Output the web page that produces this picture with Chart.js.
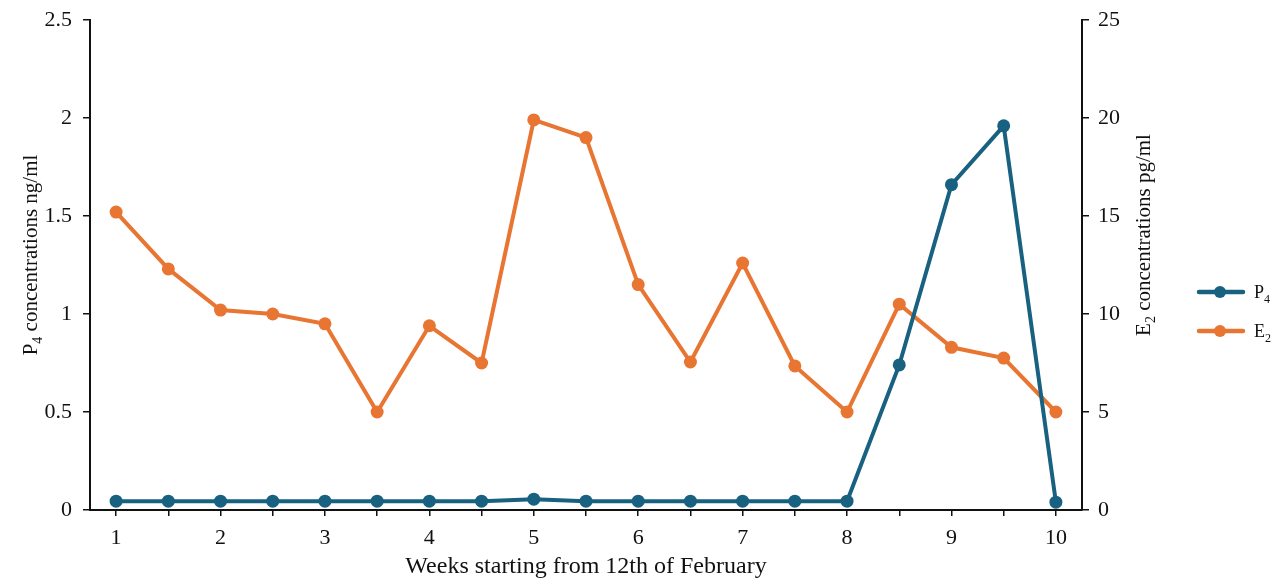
<!DOCTYPE html>
<html>
<head>
<meta charset="utf-8">
<title>P4 and E2 concentrations</title>
<script src="https://cdn.jsdelivr.net/npm/chart.js@4/dist/chart.umd.min.js"></script>
<style>
  html, body { margin: 0; padding: 0; background: #fff; }
  #wrap { width: 1280px; height: 586px; position: relative; }
</style>
</head>
<body>
<div id="wrap"><canvas id="c" width="1280" height="586"></canvas></div>
<script>
// Sampling weeks (half-week steps)
const weeks = [1, 1.5, 2, 2.5, 3, 3.5, 4, 4.5, 5, 5.5, 6, 6.5, 7, 7.5, 8, 8.5, 9, 9.5, 10];

// Progesterone, ng/ml (left axis)
const p4Values = [0.045, 0.045, 0.045, 0.045, 0.045, 0.045, 0.045, 0.045, 0.055, 0.045,
                  0.045, 0.045, 0.045, 0.045, 0.045, 0.74, 1.66, 1.96, 0.04];

// Oestradiol, pg/ml (right axis)
const e2Values = [15.2, 12.3, 10.2, 10.0, 9.5, 5.0, 9.4, 7.5, 19.9, 19.0,
                  11.5, 7.55, 12.6, 7.35, 5.0, 10.5, 8.3, 7.75, 5.0];

const leftTicks = [0, 0.5, 1, 1.5, 2, 2.5];
const rightTicks = [0, 5, 10, 15, 20, 25];

const BLUE = '#186181';
const ORANGE = '#E87532';
const SERIF = '"Liberation Serif", "DejaVu Serif", serif';
const INK = '#111';

// Draw a run of text pieces, some of them subscripted, centred or left-aligned on (x, y)
function drawRich(ctx, parts, x, y, size, align) {
  const subSize = Math.round(size * 0.68);
  let total = 0;
  parts.forEach(p => {
    ctx.font = (p.sub ? subSize : size) + 'px ' + SERIF;
    p.w = ctx.measureText(p.t).width;
    total += p.w;
  });
  let cx = align === 'left' ? x : x - total / 2;
  ctx.textBaseline = 'alphabetic';
  ctx.textAlign = 'left';
  parts.forEach(p => {
    ctx.font = (p.sub ? subSize : size) + 'px ' + SERIF;
    ctx.fillText(p.t, cx, y + (p.sub ? size * 0.26 : 0));
    cx += p.w;
  });
}

const annotations = {
  id: 'annotations',
  afterDraw(chart) {
    const ctx = chart.ctx;
    const area = chart.chartArea;
    ctx.save();
    ctx.fillStyle = INK;

    // x axis title
    drawRich(ctx, [{ t: 'Weeks starting from 12th of February' }], (area.left + area.right) / 2, 573, 24);

    // left axis title
    ctx.save();
    ctx.translate(37, 255);
    ctx.rotate(-Math.PI / 2);
    drawRich(ctx, [{ t: 'P' }, { t: '4', sub: true }, { t: ' concentrations ng/ml' }], 0, 0, 21);
    ctx.restore();

    // right axis title
    ctx.save();
    ctx.translate(1150, 235);
    ctx.rotate(-Math.PI / 2);
    drawRich(ctx, [{ t: 'E' }, { t: '2', sub: true }, { t: ' concentrations pg/ml' }], 0, 0, 21);
    ctx.restore();

    // legend
    const items = [
      { color: BLUE, parts: [{ t: 'P' }, { t: '4', sub: true }], y: 292 },
      { color: ORANGE, parts: [{ t: 'E' }, { t: '2', sub: true }], y: 331 }
    ];
    items.forEach(it => {
      ctx.strokeStyle = it.color;
      ctx.lineWidth = 4.5;
      ctx.lineCap = 'round';
      ctx.beginPath();
      ctx.moveTo(1199, it.y);
      ctx.lineTo(1243, it.y);
      ctx.stroke();
      ctx.fillStyle = it.color;
      ctx.beginPath();
      ctx.arc(1220, it.y, 6, 0, Math.PI * 2);
      ctx.fill();
      ctx.fillStyle = INK;
      drawRich(ctx, it.parts, 1254, it.y + 6, 18, 'left');
    });
    ctx.restore();
  }
};

// Fix an axis band width and let the layout padding alone set the top edge
function fitVertical(width) {
  return function (scale) {
    scale.width = width;
    scale.paddingTop = 0;
    scale.paddingBottom = 0;
  };
}

new Chart(document.getElementById('c'), {
  type: 'line',
  data: {
    labels: weeks,
    datasets: [
      {
        label: 'P4',
        data: p4Values,
        yAxisID: 'yP4',
        borderColor: BLUE,
        backgroundColor: BLUE,
        borderWidth: 4,
        pointRadius: 6.5,
        pointBorderWidth: 0,
        tension: 0
      },
      {
        label: 'E2',
        data: e2Values,
        yAxisID: 'yE2',
        borderColor: ORANGE,
        backgroundColor: ORANGE,
        borderWidth: 4,
        pointRadius: 6.5,
        pointBorderWidth: 0,
        tension: 0
      }
    ]
  },
  options: {
    responsive: false,
    animation: false,
    layout: { padding: { top: 20, left: 0, right: 0, bottom: 0 } },
    plugins: {
      legend: { display: false },
      tooltip: { enabled: false }
    },
    scales: {
      x: {
        type: 'category',
        offset: true,
        grid: { display: true, drawOnChartArea: false, drawTicks: true, tickLength: 6, color: INK, lineWidth: 1.5 },
        border: { display: true, color: INK, width: 2 },
        ticks: {
          autoSkip: false,
          maxRotation: 0,
          padding: 9,
          color: INK,
          font: { family: SERIF, size: 22 },
          callback(value, index) {
            const w = weeks[index];
            return Number.isInteger(w) ? String(w) : '';
          }
        },
        afterFit(scale) {
          scale.height = 76;
          scale.paddingLeft = 0;
          scale.paddingRight = 0;
        }
      },
      yP4: {
        position: 'left',
        min: 0,
        max: 2.5,
        afterBuildTicks(scale) { scale.ticks = leftTicks.map(v => ({ value: v })); },
        grid: { display: true, drawOnChartArea: false, drawTicks: true, tickLength: 7, color: INK, lineWidth: 1.5 },
        border: { display: true, color: INK, width: 2 },
        ticks: { color: INK, padding: 11, font: { family: SERIF, size: 22 }, callback: v => String(v) },
        afterFit: fitVertical(90)
      },
      yE2: {
        position: 'right',
        min: 0,
        max: 25,
        afterBuildTicks(scale) { scale.ticks = rightTicks.map(v => ({ value: v })); },
        grid: { display: true, drawOnChartArea: false, drawTicks: true, tickLength: 7, color: INK, lineWidth: 1.5 },
        border: { display: true, color: INK, width: 2 },
        ticks: { color: INK, padding: 9, font: { family: SERIF, size: 22 }, callback: v => String(v) },
        afterFit: fitVertical(198)
      }
    }
  },
  plugins: [annotations]
});
</script>
</body>
</html>
